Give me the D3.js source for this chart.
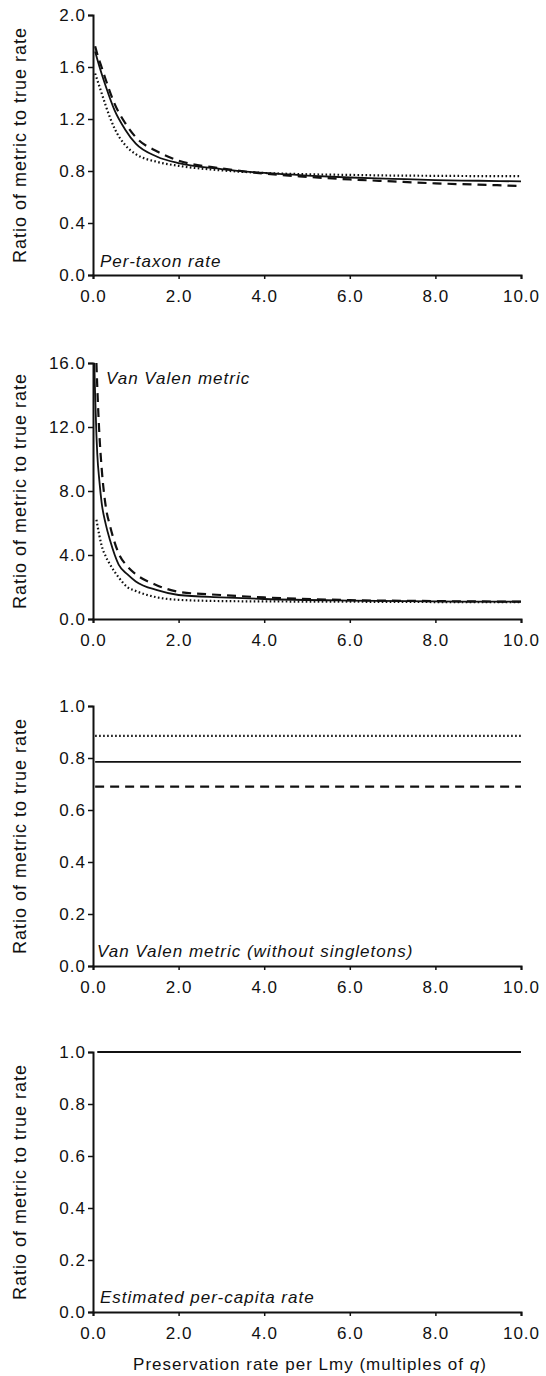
<!DOCTYPE html>
<html>
<head>
<meta charset="utf-8">
<script src="https://cdn.jsdelivr.net/npm/d3@7"></script>
<style>
  body { margin: 0; background: #fff; }
  svg text { font-family: "Liberation Sans", Arial, sans-serif; fill: #111; letter-spacing: 1px; }
</style>
</head>
<body>
<script>
// x tick labels shared by all panels
var xTicks = [0, 2, 4, 6, 8, 10];

// panel 1 - per-taxon rate
var taxonX      = [0.05, 0.1, 0.2, 0.3, 0.5, 0.75, 1, 1.5, 2, 3, 4, 5, 6, 7, 8, 9, 10];
var taxonSolid  = [1.72, 1.66, 1.55, 1.45, 1.27, 1.12, 1.01, 0.91, 0.86, 0.815, 0.785, 0.765, 0.75, 0.74, 0.73, 0.725, 0.72];
var taxonDashed = [1.76, 1.70, 1.60, 1.50, 1.32, 1.17, 1.06, 0.95, 0.88, 0.82, 0.78, 0.755, 0.735, 0.72, 0.705, 0.695, 0.685];
var taxonDotted = [1.55, 1.50, 1.40, 1.30, 1.13, 1.00, 0.93, 0.87, 0.84, 0.805, 0.785, 0.775, 0.77, 0.765, 0.763, 0.761, 0.76];
var taxonTicks  = [0, 0.4, 0.8, 1.2, 1.6, 2.0];

// panel 2 - Van Valen metric
var vvX      = [0.03, 0.05, 0.08, 0.1, 0.15, 0.2, 0.3, 0.4, 0.6, 0.8, 1.0, 1.5, 2, 3, 4, 6, 8, 10];
var vvSolid  = [16.0, 14.0, 11.5, 10.3, 8.6, 7.3, 5.9, 4.9, 3.4, 2.8, 2.35, 1.8, 1.5, 1.35, 1.25, 1.15, 1.1, 1.08];
var vvDashed = [null, null, 16.0, 14.5, 11.5, 9.5, 7.0, 5.8, 4.1, 3.3, 2.8, 2.1, 1.7, 1.5, 1.35, 1.18, 1.12, 1.08];
var vvDotted = [null, null, 6.2, 5.9, 5.2, 4.6, 3.9, 3.4, 2.6, 2.0, 1.75, 1.35, 1.2, 1.12, 1.1, 1.08, 1.06, 1.05];
var vvTicks  = [0, 4, 8, 12, 16];

// panel 3 - Van Valen metric without singletons
var nsX      = [0.05, 10];
var nsSolid  = [0.785, 0.785];
var nsDashed = [0.69, 0.69];
var nsDotted = [0.885, 0.885];
var unitTicks = [0, 0.2, 0.4, 0.6, 0.8, 1.0];

// panel 4 - estimated per-capita rate
var pcX     = [0.1, 10];
var pcSolid = [1.0, 1.0];

var svg = d3.select("body").append("svg")
  .attr("width", 546)
  .attr("height", 1376);

var left = 93, right = 521;

var styles = {
  solid:  { width: 1.8, dash: null },
  dashed: { width: 2.2, dash: "9,6" },
  dotted: { width: 2.2, dash: "1.6,2.4" }
};

function drawPanel(top, bottom, yMax, yTicks, x, series, label, labelY) {
  var xScale = d3.scaleLinear().domain([0, 10]).range([left, right]);
  var yScale = d3.scaleLinear().domain([0, yMax]).range([bottom, top]);

  var g = svg.append("g");

  // lines
  series.forEach(function(s) {
    var pts = x.map(function(d, i) { return [d, s.values[i]]; });
    var line = d3.line()
      .defined(function(d) { return d[1] != null; })
      .x(function(d) { return xScale(d[0]); })
      .y(function(d) { return yScale(d[1]); })
      .curve(d3.curveMonotoneX);
    g.append("path")
      .attr("d", line(pts))
      .attr("fill", "none")
      .attr("stroke", "#111")
      .attr("stroke-width", styles[s.type].width)
      .attr("stroke-dasharray", styles[s.type].dash);
  });

  // axes
  var xAxis = g.append("g")
    .attr("transform", "translate(0," + bottom + ")")
    .call(d3.axisBottom(xScale).tickValues(xTicks).tickFormat(d3.format(".1f")).tickSizeOuter(0).tickSize(4).tickPadding(11));
  var yAxis = g.append("g")
    .attr("transform", "translate(" + left + ",0)")
    .call(d3.axisLeft(yScale).tickValues(yTicks).tickFormat(d3.format(".1f")).tickSizeOuter(0).tickSize(5).tickPadding(2));

  [xAxis, yAxis].forEach(function(a) {
    a.select(".domain").attr("stroke", "#111").attr("stroke-width", 2);
    a.selectAll(".tick line").attr("stroke", "#111").attr("stroke-width", 1.5);
    a.selectAll(".tick text").style("font-size", "17px").attr("fill", "#111");
  });

  // y title
  g.append("text")
    .attr("transform", "translate(26," + ((top + bottom) / 2) + ") rotate(-90)")
    .attr("text-anchor", "middle")
    .style("font-size", "18px")
    .text("Ratio of metric to true rate");

  // panel label
  g.append("text")
    .attr("x", label.x)
    .attr("y", labelY)
    .style("font-size", "17px")
    .style("font-style", "italic")
    .text(label.text);
}

drawPanel(15, 275, 2.0, taxonTicks, taxonX, [
  { type: "dotted", values: taxonDotted },
  { type: "solid", values: taxonSolid },
  { type: "dashed", values: taxonDashed }
], { x: 100, text: "Per-taxon rate" }, 267);

drawPanel(363, 619, 16, vvTicks, vvX, [
  { type: "dotted", values: vvDotted },
  { type: "solid", values: vvSolid },
  { type: "dashed", values: vvDashed }
], { x: 106, text: "Van Valen metric" }, 384);

drawPanel(706, 966, 1.0, unitTicks, nsX, [
  { type: "dotted", values: nsDotted },
  { type: "solid", values: nsSolid },
  { type: "dashed", values: nsDashed }
], { x: 97, text: "Van Valen metric (without singletons)" }, 957);

drawPanel(1052, 1312, 1.0, unitTicks, pcX, [
  { type: "solid", values: pcSolid }
], { x: 100, text: "Estimated per-capita rate" }, 1303);

// x title
var xt = svg.append("text")
  .attr("x", 310)
  .attr("y", 1370)
  .attr("text-anchor", "middle")
  .style("font-size", "17px");
xt.append("tspan").text("Preservation rate per Lmy (multiples of ");
xt.append("tspan").style("font-style", "italic").text("q");
xt.append("tspan").text(")");
</script>
</body>
</html>
